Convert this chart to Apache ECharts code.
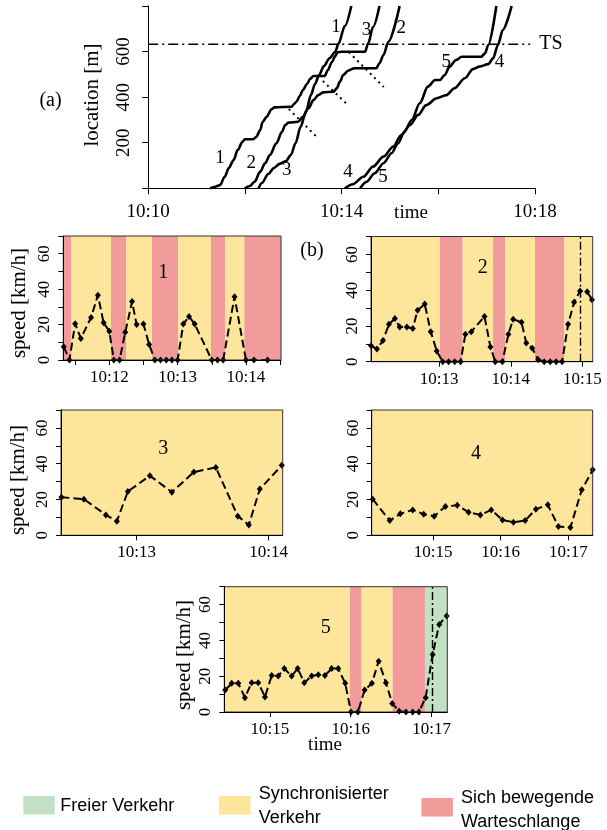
<!DOCTYPE html>
<html><head><meta charset="utf-8">
<script src="https://cdn.jsdelivr.net/npm/echarts@6/dist/echarts.min.js"></script>
<style>html,body{margin:0;padding:0;background:#fff}#c{width:607px;height:830px}</style>
</head><body><div id="c"></div>
<script>
// ---------- DATA (time in seconds after 10:00) ----------
// panel (a): trajectories [time, location m]
const traj1 = [[677,0],[683,7],[689,14],[695,51],[700,89],[706,124],[711,168],[717,204],[720,215],[730,215],[734,225],[739,256],[742,291],[747,314],[753,347],[757,355],[778,358],[781,370],[784,380],[788,405],[792,431],[797,458],[801,480],[805,493],[819,493],[823,519],[828,554],[832,580],[835,597],[840,599],[869,599],[873,636],[879,708],[887,800]];
const traj2 = [[720,0],[726,10],[732,29],[739,73],[745,110],[751,146],[759,197],[766,248],[770,278],[774,288],[786,292],[792,314],[799,351],[805,387],[811,409],[817,421],[830,424],[834,439],[838,468],[842,497],[848,516],[856,527],[883,527],[887,549],[892,585],[898,643],[912,800]];
const traj3 = [[737,0],[741,23],[749,63],[756,89],[763,107],[771,120],[777,146],[783,199],[789,269],[796,339],[802,410],[807,458],[812,497],[818,536],[825,571],[832,598],[836,633],[844,712],[852,800]];
const traj4 = [[844,0],[854,18],[867,51],[879,95],[892,139],[904,183],[914,234],[925,278],[935,322],[945,365],[958,395],[970,409],[980,439],[993,483],[1003,523],[1011,534],[1022,545],[1028,570],[1034,629],[1040,695],[1051,800]];
const traj5 = [[863,0],[871,29],[881,66],[892,110],[902,154],[910,197],[918,248],[927,300],[937,373],[947,446],[956,475],[962,475],[968,497],[974,534],[982,563],[989,577],[1013,577],[1018,592],[1022,629],[1032,800]];
const dotted1 = [[774.5,348],[808,229.5]];
const dotted2 = [[816.7,471],[846.5,370]];
const dotted3 = [[848.9,598],[892.3,444.5]];
const tsLine = [[600,632],[1074,632]];
const trajLabels = [[689,133,'1'],[728,110,'2'],[772,80,'3'],[848,73,'4'],[891.5,51,'5'],[833,709,'1'],[871,695,'3'],[914,702,'2'],[970,556,'5'],[1036,556,'4']];
const aTicksX = [600,720,840,960,1080], aLabelsX = [600,840,1080];
const aTicksY = [0,200,400,600,800], aLabelsY = [200,400,600];

// panels (b): speed [time, km/h]
const speed1 = [[680,7.5],[685,0],[690,20.5],[695,12.2],[704,24],[710,36.6],[715,21],[720,16.3],[724,0],[729,0],[734,15.6],[740,33],[744,20],[750,20.3],[755,8.8],[760,0],[765,0],[770,0],[775,0],[780,0],[785,20.3],[790,24.6],[795,20.3],[810,0],[815,0],[820,0],[830,35.7],[840,0],[847,0],[859,0]];
const speed2 = [[723,8.9],[728,7.1],[733,11.9],[738,20.9],[743,24.2],[747,19.4],[753,19.4],[758,18.6],[762,28.7],[768,32.2],[773,16.8],[778,6],[783,0],[788,0],[793,0],[798,0],[802,15.3],[807,16.8],[818,25.3],[823,8.2],[827,0],[833,0],[838,15.3],[842,23.8],[849,22],[853,10.4],[858,7.5],[863,1.1],[868,0],[873,0],[878,0],[883,0],[888,20.9],[893,33.2],[898,39.5],[904,39.1],[908,34.7]];
const speed3 = [[745.8,21.3],[756,20.2],[766,11.4],[771,7.9],[776,24.5],[786,33.3],[796,24.1],[806,35.3],[816,37.9],[826,10.7],[831,5.8],[836,25.8],[846,39.1]];
const speed4 = [[846.5,20.2],[861.6,8.2],[871,12],[882,14.2],[891.7,11.8],[901,10.7],[911,16.1],[921.5,16.8],[931.5,12.9],[942,11.4],[951.6,14.2],[961.6,8.6],[971.3,7.3],[981.7,8.2],[991.2,14.6],[1001.8,17],[1011.2,4.9],[1021.8,4.3],[1031.9,25.4],[1041.6,36.6]];
const speed5 = [[866.8,12.3],[871.6,16],[876.5,16],[881.4,8],[886.4,16.4],[891.3,16.4],[896.3,8.4],[901.3,20.4],[906.2,20.1],[910.6,24.3],[916.1,20.1],[920.6,24.3],[925.5,16.4],[931,20.1],[935.9,20.8],[940.8,20.4],[945.8,24.3],[950.7,24.3],[955.9,16],[960.2,0],[965.3,0],[970.3,12.3],[975.7,16],[980.7,28.4],[986.1,16.4],[990.8,4.8],[996,0.4],[1001,0],[1006,0],[1010.6,0],[1015.6,8],[1020.8,32.1],[1025.7,48.9],[1031.2,53.7]];
// state bands [start, end, state] : F = free, S = synchronized, Q = moving queue
const bands1 = [[679.6,686.4,'Q'],[686.4,721.5,'S'],[721.5,734.7,'Q'],[734.7,757.5,'S'],[757.5,780.6,'Q'],[780.6,809.3,'S'],[809.3,821.6,'Q'],[821.6,838.6,'S'],[838.6,870.8,'Q']];
const bands2 = [[723,780.8,'S'],[780.8,799.8,'Q'],[799.8,825.2,'S'],[825.2,835.2,'Q'],[835.2,860.3,'S'],[860.3,884.9,'Q'],[884.9,908.6,'S']];
const bands3 = [[745.6,846.4,'S']];
const bands4 = [[845.6,1040.8,'S'],[1040.8,1041.6,'Q']];
const bands5 = [[866.1,959.4,'S'],[959.4,968.1,'Q'],[968.1,991.1,'S'],[991.1,1015.1,'Q'],[1015.1,1031.7,'F']];
const tsCross2 = 898, tsCross5 = 1020.8;
const ranges = [[679.6,870.8],[723,908.6],[745.6,846.4],[845.6,1041.6],[866.1,1031.7]];
const pTicksX = [[690,720,750,780,810,840,870],[780,840,900],[780,840],[900,960,1020],[900,960,1020]];
const pLabelsX = [[720,780,840],[780,840,900],[780,840],[900,960,1020],[900,960,1020]];
const pTicksY = [0,10,20,30,40,50,60,70], pLabelsY = [0,20,40,60];
const legendItems = [['F','Freier Verkehr'],['S','Synchronisierter\nVerkehr'],['Q','Sich bewegende\nWarteschlange']];

// ---------- STYLE ----------
const SERIF = 'Liberation Serif', SANS = 'Liberation Sans';
const COL = {F:'#C2E0C4', S:'#FDE59B', Q:'#F19C9B'};
const timeLabel = v => '10:' + String(Math.round(v/60)).padStart(2,'0');

const grids = [
  {left:148.2, top:6, width:386.8, height:182.3},
  {left:63.3, top:236, width:217.7, height:124},
  {left:371, top:236.5, width:221.7, height:125.2},
  {left:61, top:410, width:221.7, height:125.3},
  {left:371.7, top:410, width:221, height:125.3},
  {left:224.3, top:586.7, width:223, height:125.3}
].map((g,i)=>Object.assign(g,{containLabel:false, z:10, show:i>0, borderColor:'#333', borderWidth:1, backgroundColor:'transparent'}));

function mkX(gi,min,max,ticks,labels,margin,fs,tl){
  return {type:'value', gridIndex:gi, min, max, z:11,
    axisLine:{show:true, onZero:false, lineStyle:{color:'#000', width:1}},
    axisTick:{show:true, length:tl, customValues:ticks, lineStyle:{color:'#000'}},
    axisLabel:{customValues:labels, formatter:timeLabel, margin, fontSize:fs, fontFamily:SERIF, color:'#000', showMinLabel:true, showMaxLabel:true},
    splitLine:{show:false}};
}
function mkY(gi,min,max,ticks,labels,margin,fs,tl){
  return {type:'value', gridIndex:gi, min, max, z:11,
    axisLine:{show:true, onZero:false, lineStyle:{color:'#000', width:1}},
    axisTick:{show:true, length:tl, customValues:ticks, lineStyle:{color:'#000'}},
    axisLabel:{customValues:labels, rotate:90, margin, fontSize:fs, fontFamily:SERIF, color:'#000', showMinLabel:true, showMaxLabel:true},
    splitLine:{show:false}};
}
const xAxis = [mkX(0,600,1080,aTicksX,aLabelsX,14,19,6)];
const yAxis = [mkY(0,0,800,aTicksY,aLabelsY,15,19,6)];
ranges.forEach((r,i)=>{ xAxis.push(mkX(i+1,r[0],r[1],pTicksX[i],pLabelsX[i],9,17,5)); yAxis.push(mkY(i+1,0,70,pTicksY,pLabelsY,10,17,5)); });

const series = [];
[traj1,traj2,traj3,traj4,traj5].forEach(d=>series.push({type:'line', xAxisIndex:0, yAxisIndex:0, data:d, symbol:'none', smooth:0.3, smoothMonotone:'x', lineStyle:{color:'#000', width:2.6}, z:3, silent:true}));
[dotted1,dotted2,dotted3].forEach(d=>series.push({type:'line', xAxisIndex:0, yAxisIndex:0, data:d, symbol:'none', lineStyle:{color:'#000', width:2, type:[2,4]}, silent:true}));
series.push({type:'line', xAxisIndex:0, yAxisIndex:0, data:tsLine, symbol:'none', lineStyle:{color:'#000', width:1.4, type:[10,4,2,4]}, silent:true});
series.push({type:'scatter', xAxisIndex:0, yAxisIndex:0, symbolSize:1, silent:true, itemStyle:{opacity:0},
  data:trajLabels.map(l=>({value:[l[0],l[1]], name:l[2]})),
  label:{show:true, position:'inside', formatter:'{b}', fontSize:19, fontFamily:SERIF, color:'#000', opacity:1}});

const speeds = [speed1,speed2,speed3,speed4,speed5];
const bands = [bands1,bands2,bands3,bands4,bands5];
const crosses = [null,tsCross2,null,null,tsCross5];
speeds.forEach((d,i)=>{
  const s = {type:'line', xAxisIndex:i+1, yAxisIndex:i+1, data:d, symbol:'diamond', symbolSize:[6,7],
    itemStyle:{color:'#000'}, lineStyle:{color:'#000', width:2, type:[8,4]}, silent:true, z:4,
    markArea:{silent:true, data:bands[i].map(b=>[{xAxis:b[0], itemStyle:{color:COL[b[2]], opacity:1}},{xAxis:b[1]}])}};
  if (crosses[i]!==null) s.markLine = {silent:true, symbol:'none', label:{show:false}, lineStyle:{color:'#000', width:1.4, type:[8,3,2,3]}, data:[{xAxis:crosses[i]}]};
  series.push(s);
});

function txt(text,x,y,size,opts){
  return Object.assign({type:'text', x, y, z:100, style:{text, fill:'#000', font:size+'px "'+((opts&&opts.sans)?SANS:SERIF)+'"', textAlign:(opts&&opts.align)||'center', textVerticalAlign:'middle'}}, (opts&&opts.rot)?{rotation:Math.PI/2}:{});
}
const graphic = [
  txt('location [m]',92,95,21,{rot:true}),
  txt('(a)',50.5,101,20),
  txt('time',411,213,19),
  txt('TS',551,44,20),
  txt('(b)',312,251,20),
  txt('speed [km/h]',19,303,21,{rot:true}),
  txt('speed [km/h]',18,480,21,{rot:true}),
  txt('speed [km/h]',184,655,21,{rot:true}),
  txt('time',325,745,19),
  txt('1',163.3,272.7,20), txt('2',482.7,267.7,20), txt('3',163.3,449,20), txt('4',476,453.3,20), txt('5',325.7,627.7,20)
];
const legPos = [[23.3,796,60.3,806],[219,796,258.7,806],[421.4,798,461,810]];
legendItems.forEach((it,i)=>{
  const p = legPos[i];
  graphic.push({type:'rect', shape:{x:p[0], y:p[1], width:31.5, height:18.5}, style:{fill:COL[it[0]]}, z:100});
  graphic.push({type:'text', x:p[2], y:p[3], z:100, style:{text:it[1], fill:'#000', font:'18px "'+SANS+'"', textAlign:'left', textVerticalAlign:'middle', lineHeight:24}});
});

const chart = echarts.init(document.getElementById('c'), null, {renderer:'canvas'});
chart.setOption({animation:false, backgroundColor:'#fff', grid:grids, xAxis, yAxis, series, graphic});
</script></body></html>
